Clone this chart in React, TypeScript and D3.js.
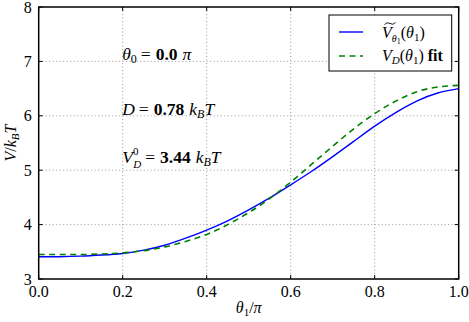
import React from "react";
import * as d3 from "d3";

// theta_1 / pi sample positions
const theta = [0, 0.05, 0.1, 0.15, 0.2, 0.25, 0.3, 0.35, 0.4, 0.45, 0.5, 0.55, 0.6, 0.65, 0.7, 0.75, 0.8, 0.85, 0.9, 0.95, 1.0];
// V_tilde(theta_1) in k_B T
const vTilde = [3.41, 3.41, 3.42, 3.44, 3.47, 3.53, 3.62, 3.75, 3.9, 4.07, 4.27, 4.49, 4.73, 4.98, 5.25, 5.53, 5.81, 6.06, 6.27, 6.42, 6.5];
// V_D(theta_1) fit
const vFit = [3.45, 3.45, 3.45, 3.46, 3.48, 3.52, 3.59, 3.69, 3.82, 4.0, 4.22, 4.48, 4.78, 5.11, 5.44, 5.76, 6.04, 6.27, 6.44, 6.53, 6.56];

const xTicks = [0, 0.2, 0.4, 0.6, 0.8, 1.0];
const yTicks = [3, 4, 5, 6, 7, 8];

const W = 469, H = 322;
const L = 38.7, R = 458.7, T = 7, B = 279;
const FONT = "'Liberation Serif', 'DejaVu Serif', serif";

export default function App() {
  const x = d3.scaleLinear().domain([0, 1]).range([L, R]);
  const y = d3.scaleLinear().domain([3, 8]).range([B, T]);

  const line = d3.line<number>()
    .x((_, i) => x(theta[i]))
    .y((d) => y(d))
    .curve(d3.curveNatural);

  const tick = 4;
  const ax = x(0.2) - 0.5;

  return (
    <svg width={W} height={H} style={{ position: "absolute", left: 0, top: 0, background: "#fff" }}
      fontFamily={FONT}>
      <rect x={0} y={0} width={W} height={H} fill="#fff" />
      {/* grid */}
      {xTicks.slice(1, -1).map((t) => (
        <line key={"gx" + t} x1={x(t)} x2={x(t)} y1={T} y2={B} stroke="#999" strokeWidth={1} strokeDasharray="1,2.5" />
      ))}
      {yTicks.slice(1, -1).map((t) => (
        <line key={"gy" + t} x1={L} x2={R} y1={y(t)} y2={y(t)} stroke="#999" strokeWidth={1} strokeDasharray="1,2.5" />
      ))}

      {/* curves */}
      <path d={line(vTilde) || ""} fill="none" stroke="#0000ff" strokeWidth={1.4} />
      <path d={line(vFit) || ""} fill="none" stroke="#008000" strokeWidth={1.6} strokeDasharray="6,4.5" />

      {/* ticks inside on all sides */}
      {xTicks.map((t) => (
        <g key={"tx" + t}>
          <line x1={x(t)} x2={x(t)} y1={B} y2={B - tick} stroke="#000" strokeWidth={1} />
          <line x1={x(t)} x2={x(t)} y1={T} y2={T + tick} stroke="#000" strokeWidth={1} />
          <text x={x(t)} y={B + 18} textAnchor="middle" fontSize={16}>{t.toFixed(1)}</text>
        </g>
      ))}
      {yTicks.map((t) => (
        <g key={"ty" + t}>
          <line x1={L} x2={L + tick} y1={y(t)} y2={y(t)} stroke="#000" strokeWidth={1} />
          <line x1={R} x2={R - tick} y1={y(t)} y2={y(t)} stroke="#000" strokeWidth={1} />
          <text x={L - 7} y={y(t) + 5.5} textAnchor="end" fontSize={16}>{t}</text>
        </g>
      ))}

      {/* frame */}
      <rect x={L} y={T} width={R - L} height={B - T} fill="none" stroke="#000" strokeWidth={1.5} />

      {/* axis labels */}
      <text x={(L + R) / 2} y={313} textAnchor="middle" fontSize={16}>
        <tspan fontStyle="italic">θ</tspan>
        <tspan fontSize={11} dy={3}>1</tspan>
        <tspan dy={-3}>/</tspan>
        <tspan fontStyle="italic">π</tspan>
      </text>
      <text transform={`translate(16,${(T + B) / 2}) rotate(-90)`} textAnchor="middle" fontSize={16}>
        <tspan fontStyle="italic">V</tspan>
        <tspan>/</tspan>
        <tspan fontStyle="italic">k</tspan>
        <tspan fontSize={11} dy={3} fontStyle="italic">B</tspan>
        <tspan dy={-3} fontStyle="italic">T</tspan>
      </text>

      {/* annotations */}
      <text x={ax} y={y(7) - 1} fontSize={17.5}>
        <tspan fontStyle="italic">θ</tspan>
        <tspan fontSize={12} dy={3}>0</tspan>
        <tspan dy={-3} dx={4}>=</tspan>
        <tspan fontWeight="bold" dx={5}>0.0</tspan>
        <tspan fontStyle="italic" dx={5}>π</tspan>
      </text>
      <text x={ax} y={y(6) - 1} fontSize={17.5}>
        <tspan fontStyle="italic">D</tspan>
        <tspan dx={4}>=</tspan>
        <tspan fontWeight="bold" dx={5}>0.78</tspan>
        <tspan fontStyle="italic" dx={5}>k</tspan>
        <tspan fontSize={12} dy={3} fontStyle="italic">B</tspan>
        <tspan dy={-3} fontStyle="italic">T</tspan>
      </text>
      <text x={ax} y={y(5) - 7} fontSize={17.5}>
        <tspan fontStyle="italic">V</tspan>
        <tspan fontSize={11} dy={-8}>0</tspan>
      </text>
      <text x={ax} y={y(5) - 7} fontSize={17.5}>
        <tspan fontSize={11} dx={11} dy={5} fontStyle="italic">D</tspan>
        <tspan dy={-5} dx={4}>=</tspan>
        <tspan fontWeight="bold" dx={5}>3.44</tspan>
        <tspan fontStyle="italic" dx={5}>k</tspan>
        <tspan fontSize={12} dy={3} fontStyle="italic">B</tspan>
        <tspan dy={-3} fontStyle="italic">T</tspan>
      </text>

      {/* legend */}
      <g>
        <rect x={329} y={15} width={122.7} height={56} fill="#fff" stroke="#000" strokeWidth={1} />
        <line x1={339} x2={363} y1={32} y2={32} stroke="#0000ff" strokeWidth={1.4} />
        <line x1={339} x2={363} y1={56} y2={56} stroke="#008000" strokeWidth={1.6} strokeDasharray="6,4.5" />
        <text x={382} y={38} fontSize={16}>
          <tspan fontStyle="italic">V</tspan>
          <tspan fontSize={10} dy={4} fontStyle="italic">θ</tspan>
          <tspan fontSize={8} dy={2}>1</tspan>
          <tspan dy={-6}>(</tspan>
          <tspan fontStyle="italic">θ</tspan>
          <tspan fontSize={11} dy={3}>1</tspan>
          <tspan dy={-3}>)</tspan>
        </text>
        <path d="M384.5,24.5 Q387,21.5 390,23.5 T395.5,22.5" fill="none" stroke="#000" strokeWidth={0.9} />
        <text x={382} y={61} fontSize={16}>
          <tspan fontStyle="italic">V</tspan>
          <tspan fontSize={11} dy={3} fontStyle="italic">D</tspan>
          <tspan dy={-3}>(</tspan>
          <tspan fontStyle="italic">θ</tspan>
          <tspan fontSize={11} dy={3}>1</tspan>
          <tspan dy={-3}>) </tspan>
          <tspan fontWeight="bold">fit</tspan>
        </text>
      </g>
    </svg>
  );
}
